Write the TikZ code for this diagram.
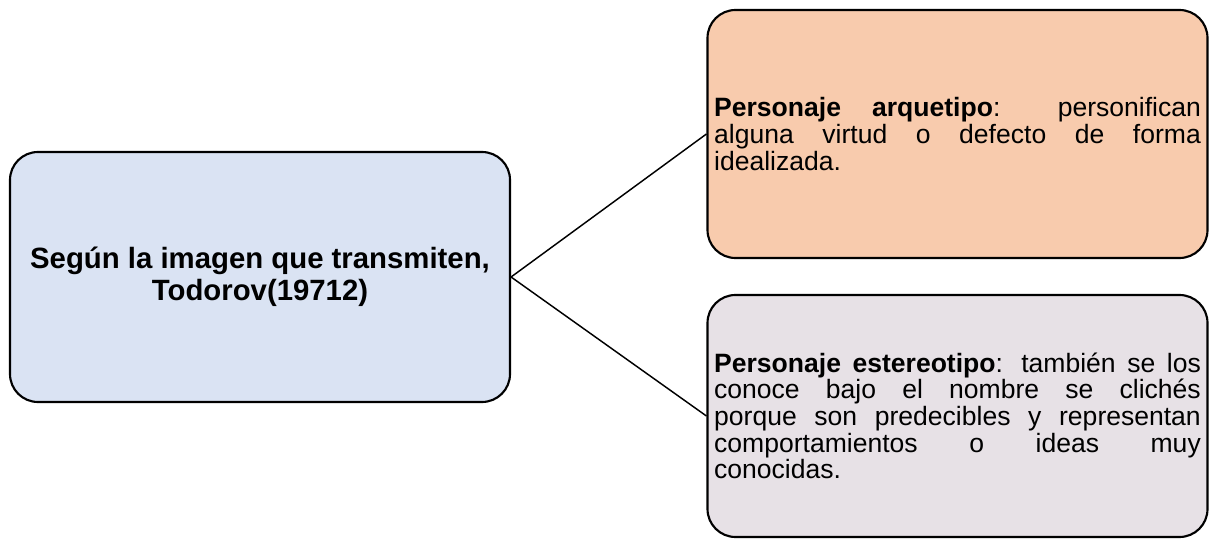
\documentclass[tikz,border=0pt]{standalone}
\usepackage{fontspec}
\setmainfont{Liberation Sans}
\usepackage{tikz}
\usetikzlibrary{positioning}

\definecolor{boxblue}{HTML}{DAE3F3}
\definecolor{boxpeach}{HTML}{F8CBAD}
\definecolor{boxgray}{HTML}{E7E1E6}

\hyphenpenalty=10000
\exhyphenpenalty=10000

\begin{document}
\begin{tikzpicture}[x=.75pt, y=-.75pt,
  cajon/.style={draw, line width=1.6, rounded corners=21,
    inner sep=0pt, minimum width=375pt},
  textito/.style={text width=365pt, align=justify,
    font=\fontsize{19.9}{20}\selectfont},
  conector/.style={line width=1.1}]
\useasboundingbox (0,0) rectangle (1210,541);

\node[cajon, fill=boxblue, minimum height=187.5pt, align=center,
  font=\bfseries\fontsize{22}{24}\selectfont]
  (tipo) at (260,277)
  {Según la imagen que transmiten,\\Todorov(19712)};

\node[cajon, textito, fill=boxpeach, minimum height=186pt]
  (arq) at (957.5,134)
  {\textbf{Personaje arquetipo}: personifican\linebreak
   alguna virtud o defecto de forma\linebreak
   idealizada.};

\node[cajon, textito, fill=boxgray, minimum height=181.5pt]
  (estereo) at (957.5,416)
  {\textbf{Personaje estereotipo}: también se los\linebreak
   conoce bajo el nombre se clichés\linebreak
   porque son predecibles y representan\linebreak
   comportamientos o ideas muy\linebreak
   conocidas.};

\draw[conector]
  (tipo.east) -- (arq.west);
\draw[conector]
  (tipo.east) -- (estereo.west);
\end{tikzpicture}
\end{document}
